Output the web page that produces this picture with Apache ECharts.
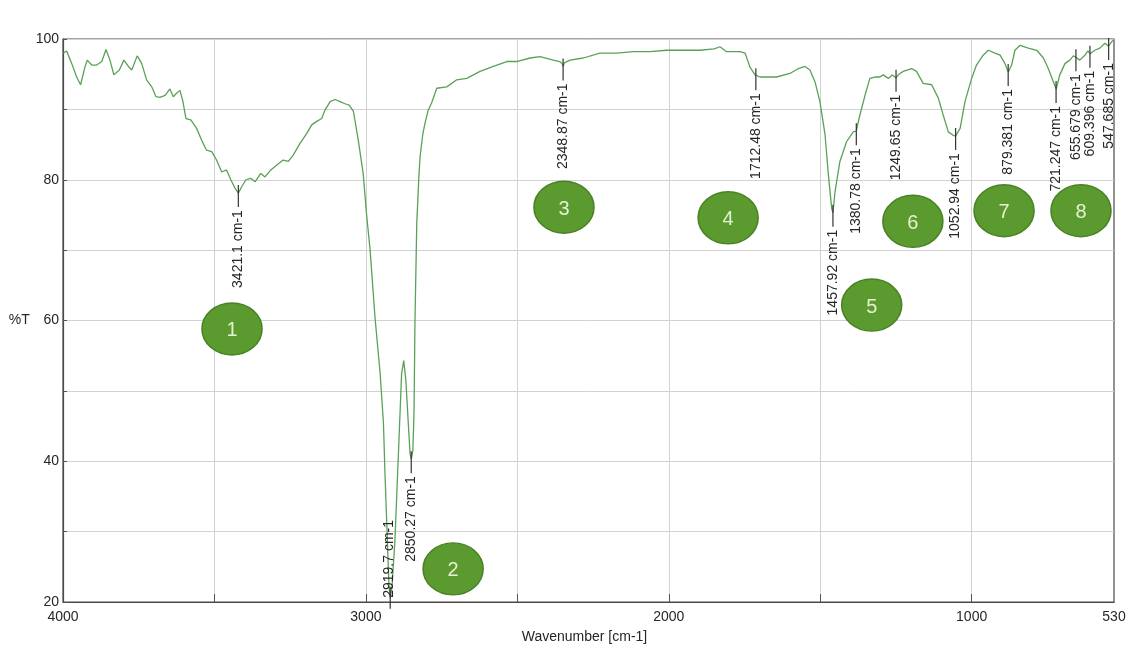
<!DOCTYPE html>
<html>
<head>
<meta charset="utf-8">
<title>FTIR spectrum</title>
<script src="https://cdn.jsdelivr.net/npm/echarts@6/dist/echarts.min.js"></script>
<style>
  html, body { margin: 0; padding: 0; background: #ffffff; }
  #chart { width: 1129px; height: 650px; }
</style>
</head>
<body>
<div id="chart"></div>
<script>
// Infrared transmission spectrum: wavenumber (cm-1) vs %T
const wavenumbers = [
  3999, 3988, 3971, 3955, 3942, 3927, 3920, 3905, 3889, 3872, 3858, 3845, 3832, 3814, 3799, 3784,
  3773, 3755, 3740, 3724, 3707, 3693, 3680, 3663, 3647, 3636, 3625, 3614, 3605, 3594, 3578, 3559,
  3542, 3526, 3509, 3493, 3476, 3460, 3446, 3432, 3421, 3410, 3396, 3380, 3366, 3347, 3333, 3314,
  3294, 3273, 3256, 3240, 3217, 3195, 3179, 3162, 3146, 3135, 3118, 3102, 3085, 3069, 3055, 3041,
  3025, 3009, 2998, 2986, 2970, 2953, 2942, 2937, 2931, 2924, 2920, 2914, 2904, 2893, 2882, 2875,
  2868, 2860, 2854, 2850, 2845, 2841, 2838, 2832, 2825, 2821, 2812, 2805, 2795, 2783, 2766, 2733,
  2700, 2667, 2623, 2579, 2535, 2502, 2458, 2425, 2400, 2381, 2360, 2352, 2349, 2345, 2326, 2282,
  2227, 2172, 2117, 2062, 2007, 1952, 1897, 1850, 1831, 1809, 1765, 1748, 1732, 1715, 1712, 1699,
  1682, 1644, 1600, 1572, 1550, 1534, 1517, 1501, 1484, 1473, 1462, 1458, 1451, 1435, 1413, 1391,
  1381, 1369, 1352, 1336, 1319, 1303, 1292, 1275, 1262, 1250, 1240, 1226, 1198, 1182, 1160, 1132,
  1110, 1094, 1077, 1060, 1053, 1045, 1038, 1022, 1000, 984, 962, 945, 923, 906, 890, 879,
  868, 857, 840, 813, 785, 763, 747, 730, 721, 709, 692, 676, 664, 656, 643, 626,
  616, 609, 593, 577, 560, 548, 538, 530
];
const transmittance = [
  98.0, 98.3, 96.5, 94.6, 93.5, 96.1, 97.0, 96.3, 96.3, 96.8, 98.5, 97.0, 94.9, 95.6, 97.0, 96.1,
  95.6, 97.6, 96.5, 94.2, 93.2, 91.8, 91.7, 92.0, 92.9, 91.8, 92.3, 92.7, 91.3, 88.7, 88.5, 87.3,
  85.6, 84.2, 84.0, 82.8, 81.1, 81.4, 80.0, 78.8, 78.1, 79.0, 80.0, 80.2, 79.7, 80.9, 80.4, 81.4,
  82.1, 82.8, 82.6, 83.5, 85.2, 86.6, 87.8, 88.3, 88.7, 89.9, 91.1, 91.4, 91.1, 90.8, 90.6, 89.7,
  85.6, 80.9, 75.2, 70.0, 60.5, 52.5, 45.4, 38.3, 31.2, 22.5, 20.6, 22.0, 28.8, 40.6, 52.5, 54.3,
  51.5, 45.4, 41.0, 40.3, 41.5, 47.0, 59.6, 73.8, 80.5, 83.3, 86.5, 88.0, 89.8, 90.9, 93.0, 93.2,
  94.2, 94.4, 95.4, 96.1, 96.8, 96.8, 97.3, 97.5, 97.2, 97.0, 96.8, 96.5, 96.1, 96.6, 97.0, 97.3,
  98.0, 98.0, 98.2, 98.2, 98.4, 98.4, 98.4, 98.6, 98.9, 98.2, 98.2, 98.0, 96.0, 94.9, 94.7, 94.6,
  94.6, 94.6, 95.1, 95.8, 96.1, 95.6, 93.9, 91.1, 86.4, 80.7, 75.9, 75.3, 78.3, 82.6, 85.4, 86.8,
  86.9, 89.2, 92.0, 94.4, 94.6, 94.6, 94.9, 94.4, 94.9, 94.5, 95.0, 95.4, 95.8, 95.4, 93.7, 93.5,
  91.6, 89.2, 86.8, 86.3, 86.2, 86.8, 87.3, 91.1, 94.4, 96.3, 97.7, 98.4, 98.0, 97.7, 96.5, 95.3,
  96.3, 98.4, 99.1, 98.7, 98.4, 97.3, 95.8, 93.9, 92.9, 94.9, 96.5, 97.0, 97.6, 97.4, 97.0, 97.7,
  98.3, 97.9, 98.4, 98.7, 99.4, 99.0, 99.6, 99.9
];

// Picked peaks (position in cm-1 and %T at the band minimum)
const peakPositions = ['3421.1', '2919.7', '2850.27', '2348.87', '1712.48', '1457.92', '1380.78',
  '1249.65', '1052.94', '879.381', '721.247', '655.679', '609.396', '547.685'];
const peakValues = [78.1, 20.6, 40.3, 96.1, 94.7, 75.3, 86.9, 94.5, 86.2, 95.3, 92.9, 97.4, 97.9, 99.0];

// Numbered band markers
const bandNumbers = ['1', '2', '3', '4', '5', '6', '7', '8'];
const bandX = [3442, 2712, 2346, 1804, 1330, 1194, 893, 639];
const bandY = [58.8, 24.7, 76.1, 74.6, 62.2, 74.1, 75.6, 75.6];

// Axis ticks and labels
const xTickValues = [3500, 3000, 2500, 2000, 1500, 1000];
const xLabelValues = [4000, 3000, 2000, 1000, 530];
const yLabelValues = [20, 40, 60, 80, 100];

const FONT = '"Liberation Sans", Arial, sans-serif';
const TEXT = '#262626';

const spectrum = wavenumbers.map((w, i) => [w, transmittance[i]]);

const peaks = peakPositions.map((p, i) => {
  const item = { value: [parseFloat(p), peakValues[i]], name: p + ' cm-1' };
  if (p === '2919.7') {
    // band reaches the bottom of the frame: label runs upward from the minimum
    item.symbolOffset = [0, 0];
    item.label = { position: 'inside', align: 'left', verticalAlign: 'middle', offset: [0, -1] };
  }
  return item;
});

const bands = bandNumbers.map((n, i) => ({ value: [bandX[i], bandY[i]], name: n }));

const chart = echarts.init(document.getElementById('chart'), null, { renderer: 'canvas' });

chart.setOption({
  animation: false,
  backgroundColor: '#ffffff',
  textStyle: { fontFamily: FONT },
  grid: {
    left: 63, right: 15, top: 39, bottom: 48,
    show: true, borderColor: '#4a4a4a', borderWidth: 1.2, backgroundColor: 'transparent'
  },
  xAxis: {
    type: 'value',
    inverse: true,
    min: 530,
    max: 4000,
    name: 'Wavenumber [cm-1]',
    nameLocation: 'middle',
    nameGap: 28,
    nameTextStyle: { color: TEXT, fontSize: 14, fontFamily: FONT, padding: [0, 0, 0, -8] },
    axisLine: { show: true, onZero: false, lineStyle: { color: '#4a4a4a', width: 1.2 } },
    axisTick: { show: true, inside: true, length: 8, customValues: xTickValues,
      lineStyle: { color: '#555' } },
    axisLabel: { customValues: xLabelValues, color: TEXT, fontSize: 14, margin: 8, fontFamily: FONT,
      formatter: v => String(v) },
    splitLine: { show: true, lineStyle: { color: '#d2d2d2', width: 1 } }
  },
  yAxis: {
    type: 'value',
    min: 20,
    max: 100,
    interval: 10,
    name: '%T',
    nameLocation: 'middle',
    nameRotate: 0,
    nameGap: 42,
    nameTextStyle: { color: TEXT, fontSize: 14, fontFamily: FONT, align: 'center', verticalAlign: 'middle' },
    axisLine: { show: true, lineStyle: { color: '#4a4a4a', width: 1.2 } },
    axisTick: { show: true, inside: true, length: 4, lineStyle: { color: '#555' } },
    axisLabel: {
      color: TEXT, fontSize: 14, margin: 4, fontFamily: FONT,
      formatter: v => (yLabelValues.indexOf(v) >= 0 ? String(v) : '')
    },
    splitLine: { show: true, lineStyle: { color: '#d2d2d2', width: 1 } }
  },
  series: [
    {
      name: 'spectrum',
      type: 'line',
      data: spectrum,
      showSymbol: false,
      smooth: false,
      lineStyle: { color: '#5aa058', width: 1.3 },
      z: 3
    },
    {
      name: 'peaks',
      type: 'scatter',
      data: peaks,
      clip: false,
      symbol: 'rect',
      symbolSize: [1.2, 22],
      symbolOffset: [0, 3],
      itemStyle: { color: '#333333', opacity: 1 },
      label: {
        show: true,
        formatter: p => p.name,
        position: 'bottom',
        distance: 3,
        rotate: 90,
        align: 'right',
        verticalAlign: 'middle',
        color: TEXT,
        fontSize: 14,
        fontFamily: FONT
      },
      z: 4
    },
    {
      name: 'bands',
      type: 'scatter',
      data: bands,
      clip: false,
      symbol: 'circle',
      symbolSize: [60, 52],
      itemStyle: { color: '#5b9a2f', borderColor: '#4a8226', borderWidth: 1.5, opacity: 1 },
      label: {
        show: true,
        position: 'inside',
        formatter: p => p.name,
        color: '#e4f2d2',
        fontSize: 20,
        fontFamily: FONT,
        offset: [0, 2]
      },
      z: 5
    }
  ]
});
</script>
</body>
</html>
